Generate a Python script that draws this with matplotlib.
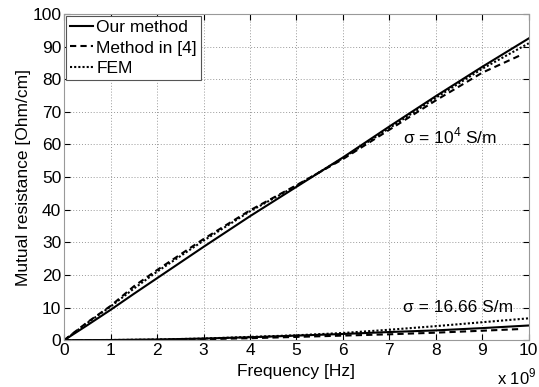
import matplotlib
matplotlib.use("Agg")
import matplotlib.pyplot as plt
import numpy as np

plt.rcParams['font.family'] = ['Liberation Sans', 'DejaVu Sans']
plt.rcParams['mathtext.fontset'] = 'custom'
plt.rcParams['mathtext.rm'] = 'Liberation Sans'

# Frequency in units of 1e9 Hz
x_our_hi = [0, 0.5, 1, 1.5, 2, 3, 4, 5, 6, 7, 8, 9, 10]
y_our_hi = [0, 4.6, 9.3, 14.2, 19.0, 28.6, 38.0, 47.0, 56.0, 65.5, 74.8, 83.8, 92.5]

x_ref_hi = [0, 0.5, 1, 1.5, 2, 3, 4, 5, 6, 7, 8, 9, 9.8]
y_ref_hi = [0, 5.5, 10.5, 16.5, 21.5, 31.0, 39.8, 47.5, 55.5, 64.5, 73.5, 82.0, 87.2]

x_fem_hi = [0, 0.5, 1, 1.5, 2, 3, 4, 5, 6, 7, 8, 9, 10]
y_fem_hi = [0, 5.3, 10.3, 15.8, 21.0, 30.5, 39.5, 47.3, 55.8, 65.0, 74.3, 83.2, 91.0]

x_our_lo = [0, 1, 2, 3, 4, 5, 6, 7, 8, 9, 10]
y_our_lo = [0, 0.05, 0.2, 0.5, 0.9, 1.4, 1.9, 2.5, 3.0, 3.7, 4.5]

x_ref_lo = [0, 1, 2, 3, 4, 5, 6, 7, 8, 9, 9.8]
y_ref_lo = [0, 0.03, 0.1, 0.3, 0.6, 1.0, 1.4, 1.8, 2.3, 2.9, 3.4]

x_fem_lo = [0, 1, 2, 3, 4, 5, 6, 7, 8, 9, 10]
y_fem_lo = [0, 0.05, 0.2, 0.5, 1.0, 1.5, 2.2, 3.2, 4.3, 5.5, 6.7]

x_ticks = list(range(0, 11))
y_ticks = list(range(0, 101, 10))

fig = plt.figure(figsize=(5.39, 3.87), dpi=100)
ax = fig.add_axes([0.119, 0.121, 0.862, 0.843])

lw = 1.5
ax.plot(x_our_hi, y_our_hi, color='black', lw=lw, ls='-', label='Our method')
ax.plot(x_ref_hi, y_ref_hi, color='black', lw=lw, ls=(0, (3, 2)), label='Method in [4]')
ax.plot(x_fem_hi, y_fem_hi, color='black', lw=lw, ls=(0, (1, 1)), label='FEM')
ax.plot(x_our_lo, y_our_lo, color='black', lw=lw, ls='-')
ax.plot(x_ref_lo, y_ref_lo, color='black', lw=lw, ls=(0, (3, 2)))
ax.plot(x_fem_lo, y_fem_lo, color='black', lw=lw, ls=(0, (1, 1)))

ax.set_xlim(0, 10)
ax.set_ylim(0, 100)
ax.set_xticks(x_ticks)
ax.set_yticks(y_ticks)
ax.tick_params(direction='in', labelsize=12.5, length=4, top=True, right=True, pad=2)
ax.grid(True, ls=(0, (1, 2)), color='#999999', lw=0.7)
for s in ax.spines.values():
    s.set_color('#999999')
    s.set_linewidth(0.8)

ax.set_xlabel('Frequency [Hz]', fontsize=12.5, labelpad=4)
ax.set_ylabel('Mutual resistance [Ohm/cm]', fontsize=12.5, labelpad=1)

ax.text(7.3, 60.4, 'σ = 10$^4$ S/m', fontsize=12.5)
ax.text(7.3, 8.6, 'σ = 16.66 S/m', fontsize=12.5)
fig.text(0.995, 0.0, 'x 10$^9$', fontsize=12, ha='right', va='bottom')

leg = ax.legend(loc='upper left', fontsize=12.5, handlelength=1.3, handletextpad=0.2,
                borderpad=0.25, labelspacing=0.3, borderaxespad=0.1, fancybox=False,
                framealpha=1)
leg.get_frame().set_edgecolor('#555555')
leg.get_frame().set_linewidth(0.8)

fig.savefig('out.png', dpi=100)
